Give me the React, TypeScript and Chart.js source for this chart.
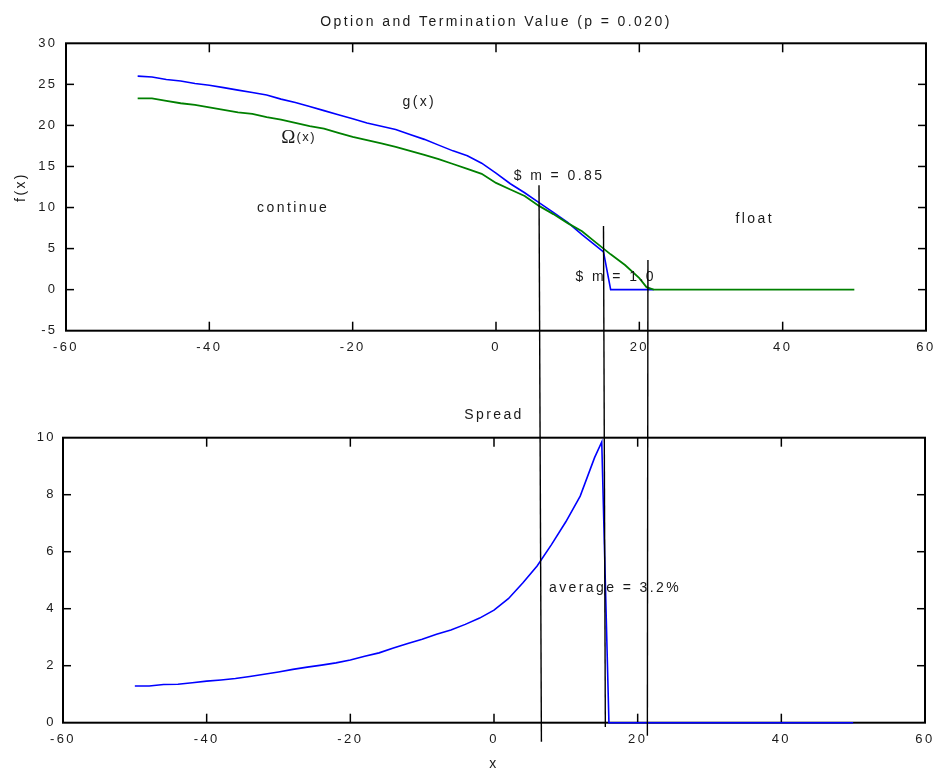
import React, { useEffect, useRef } from 'react';
import { Chart, registerables } from 'chart.js';

Chart.register(...registerables);

// ---------- data ----------
const gX = [-50, -48, -46, -44, -42, -40, -38, -36, -34, -32, -30, -28, -26, -24, -22, -20, -18, -16, -14, -12, -10, -8, -6, -4, -2, 0, 2, 4, 6, 8, 10, 12, 14, 15, 16, 22];
const gY = [26.0, 25.9, 25.6, 25.4, 25.1, 24.9, 24.6, 24.3, 24.0, 23.7, 23.2, 22.8, 22.3, 21.8, 21.3, 20.8, 20.3, 19.9, 19.5, 18.9, 18.3, 17.6, 16.9, 16.3, 15.4, 14.2, 12.9, 11.8, 10.6, 9.4, 8.2, 6.7, 5.3, 4.6, 0, 0];

const omegaX = [-50, -48, -46, -44, -42, -40, -38, -36, -34, -32, -30, -28, -26, -24, -22, -20, -18, -16, -14, -12, -10, -8, -6, -4, -2, 0, 2, 4, 6, 8, 10, 12, 14, 16, 18, 20, 21, 22, 50];
const omegaY = [23.3, 23.3, 23.0, 22.7, 22.5, 22.2, 21.9, 21.6, 21.4, 21.0, 20.7, 20.3, 19.9, 19.6, 19.1, 18.6, 18.2, 17.8, 17.4, 16.9, 16.4, 15.9, 15.3, 14.7, 14.1, 13.0, 12.2, 11.4, 10.2, 9.2, 8.1, 7.1, 5.7, 4.3, 3.0, 1.4, 0.3, 0, 0];

const spreadX = [-50, -48, -46, -44, -42, -40, -38, -36, -34, -32, -30, -28, -26, -24, -22, -20, -18, -16, -14, -12, -10, -8, -6, -4, -2, 0, 2, 4, 6, 8, 10, 12, 14, 15, 16, 50];
const spreadY = [1.29, 1.29, 1.34, 1.35, 1.40, 1.46, 1.50, 1.55, 1.62, 1.70, 1.78, 1.87, 1.95, 2.02, 2.10, 2.20, 2.33, 2.45, 2.62, 2.78, 2.93, 3.10, 3.25, 3.45, 3.67, 3.95, 4.35, 4.90, 5.50, 6.25, 7.05, 7.95, 9.30, 9.85, 0, 0];

// axis ranges / ticks
const xRange = [-60, 60];
const xStep = 20;
const topYRange = [-5, 30];
const topYStep = 5;
const botYRange = [0, 10];
const botYStep = 2;

// regime boundary markers (top end in top-panel units, bottom end in spread units)
const markerTopX = [6.0, 15.0, 21.2];
const markerTopY = [12.7, 7.75, 3.6];
const markerBottomX = [6.6, 15.5, 21.35];
const markerBottomY = [-0.67, -0.15, -0.46];

// text notes (anchored in data units)
const topNoteText = ['g(x)', 'continue', '$ m = 0.85', 'float', '$ m = 1.0'];
const topNoteX = [-10.7, -28.3, 8.8, 36.1, 16.7];
const topNoteY = [22.8, 9.87, 13.8, 8.56, 1.58];
const omegaNote = { x: -27.6, y: 18.6 };
const botNoteText = ['average = 3.2%'];
const botNoteX = [16.85];
const botNoteY = [4.72];

// ---------- style ----------
const FONT = "'Liberation Sans', Arial, Helvetica, sans-serif";
const SERIF = "'Liberation Serif', 'Times New Roman', serif";
const SPACING = '2.4px';
const INK = '#1a1a1a';
const BLUE = '#0000ff';
const GREEN = '#008000';

const pts = (xs: number[], ys: number[]) => xs.map((x, i) => ({ x, y: ys[i] }));

const spacingPlugin = {
  id: 'spacing',
  beforeLayout(chart: any) {
    chart.ctx.letterSpacing = SPACING;
  },
  beforeDraw(chart: any) {
    chart.ctx.letterSpacing = SPACING;
  },
};

const framePlugin = {
  id: 'frame',
  beforeDatasetsDraw(chart: any) {
    const { ctx, chartArea: a, scales } = chart;
    ctx.save();
    ctx.strokeStyle = '#000';
    ctx.lineWidth = 1.5;
    const seg = (x1: number, y1: number, x2: number, y2: number) => {
      ctx.beginPath();
      ctx.moveTo(x1, y1);
      ctx.lineTo(x2, y2);
      ctx.stroke();
    };
    scales.x.ticks.forEach((t: any) => {
      const p = scales.x.getPixelForValue(t.value);
      if (p <= a.left + 1 || p >= a.right - 1) return;
      seg(p, a.bottom, p, a.bottom - 9);
      seg(p, a.top, p, a.top + 9);
    });
    scales.y.ticks.forEach((t: any) => {
      const p = scales.y.getPixelForValue(t.value);
      if (p <= a.top + 1 || p >= a.bottom - 1) return;
      seg(a.left, p, a.left + 8, p);
      seg(a.right, p, a.right - 8, p);
    });
    ctx.lineWidth = 2;
    ctx.strokeRect(a.left, a.top, a.right - a.left, a.bottom - a.top);
    ctx.restore();
  },
};

function drawNote(ctx: any, text: string, x: number, y: number) {
  ctx.save();
  ctx.letterSpacing = SPACING;
  ctx.font = `14px ${FONT}`;
  ctx.fillStyle = INK;
  ctx.textAlign = 'center';
  ctx.textBaseline = 'middle';
  ctx.fillText(text, x, y);
  ctx.restore();
}

const topNotesPlugin = {
  id: 'topNotes',
  afterDatasetsDraw(chart: any) {
    const { ctx, scales } = chart;
    topNoteText.forEach((t, i) => {
      drawNote(ctx, t, scales.x.getPixelForValue(topNoteX[i]), scales.y.getPixelForValue(topNoteY[i]));
    });
    // Omega(x)
    const cx = scales.x.getPixelForValue(omegaNote.x);
    const cy = scales.y.getPixelForValue(omegaNote.y);
    ctx.save();
    ctx.fillStyle = INK;
    ctx.textBaseline = 'alphabetic';
    ctx.textAlign = 'left';
    ctx.letterSpacing = '0px';
    ctx.font = `19px ${SERIF}`;
    const wO = ctx.measureText('Ω').width;
    ctx.letterSpacing = '1.5px';
    ctx.font = `13px ${FONT}`;
    const wX = ctx.measureText('(x)').width;
    const x0 = cx - (wO + wX) / 2;
    const base = cy + 6.5;
    ctx.letterSpacing = '0px';
    ctx.font = `19px ${SERIF}`;
    ctx.fillText('Ω', x0, base);
    ctx.letterSpacing = '1.5px';
    ctx.font = `13px ${FONT}`;
    ctx.fillText('(x)', x0 + wO + 1, base - 2);
    ctx.restore();
  },
};

const botNotesPlugin = {
  id: 'botNotes',
  afterDatasetsDraw(chart: any) {
    const { ctx, scales } = chart;
    botNoteText.forEach((t, i) => {
      drawNote(ctx, t, scales.x.getPixelForValue(botNoteX[i]), scales.y.getPixelForValue(botNoteY[i]));
    });
  },
};

function axisX(height: number, title?: string) {
  return {
    type: 'linear',
    min: xRange[0],
    max: xRange[1],
    grid: { display: false, drawTicks: false },
    border: { display: false },
    ticks: {
      stepSize: xStep,
      padding: 9.3,
      color: INK,
      font: { family: FONT, size: 13 },
      maxRotation: 0,
      autoSkip: false,
    },
    title: title
      ? {
          display: true,
          text: title,
          color: INK,
          font: { family: FONT, size: 14, lineHeight: 1.0 },
          padding: { top: 0, bottom: 0 },
        }
      : { display: false },
    afterFit(s: any) {
      s.height = height;
      s.paddingLeft = 0;
      s.paddingRight = 0;
    },
  };
}

function axisY(range: number[], step: number, width: number, pad: number, title?: string) {
  return {
    type: 'linear',
    min: range[0],
    max: range[1],
    grid: { display: false, drawTicks: false },
    border: { display: false },
    ticks: {
      stepSize: step,
      padding: pad,
      color: INK,
      font: { family: FONT, size: 13 },
    },
    title: title
      ? {
          display: true,
          text: title,
          color: INK,
          font: { family: FONT, size: 14, lineHeight: 1.2 },
          padding: { top: 13, bottom: 0 },
        }
      : { display: false },
    afterFit(s: any) {
      s.width = width;
      s.paddingTop = 0;
      s.paddingBottom = 0;
    },
  };
}

export default function App() {
  const topRef = useRef<HTMLCanvasElement>(null);
  const botRef = useRef<HTMLCanvasElement>(null);

  useEffect(() => {
    const topChart = new Chart(topRef.current as HTMLCanvasElement, {
      type: 'line',
      data: {
        datasets: [
          {
            label: 'Ω(x)',
            data: pts(omegaX, omegaY),
            borderColor: GREEN,
            borderWidth: 1.8,
            pointRadius: 0,
            tension: 0,
            clip: 4,
          },
          {
            label: 'g(x)',
            data: pts(gX, gY),
            borderColor: BLUE,
            borderWidth: 1.6,
            pointRadius: 0,
            tension: 0,
            clip: 4,
          },
        ],
      },
      options: {
        responsive: false,
        animation: false,
        events: [],
        layout: { padding: { left: 0, right: 10, top: 0, bottom: 0 } },
        plugins: {
          legend: { display: false },
          tooltip: { enabled: false },
          title: {
            display: true,
            text: 'Option and Termination Value (p = 0.020)',
            fullSize: false,
            color: INK,
            font: { family: FONT, size: 14, weight: 'normal', lineHeight: 1.2 },
            padding: { top: 14, bottom: 12.5 },
          },
        },
        scales: {
          x: axisX(440.3),
          y: axisY(topYRange, topYStep, 66, 8.5, 'f(x)'),
        },
      } as any,
      plugins: [spacingPlugin, framePlugin, topNotesPlugin],
    });

    const markerPlugin = {
      id: 'markers',
      afterDraw(chart: any) {
        const { ctx, scales } = chart;
        const tx = topChart.scales.x;
        const ty = topChart.scales.y;
        ctx.save();
        ctx.strokeStyle = '#000';
        ctx.lineWidth = 1.4;
        markerTopX.forEach((_, i) => {
          ctx.beginPath();
          ctx.moveTo(tx.getPixelForValue(markerTopX[i]), ty.getPixelForValue(markerTopY[i]));
          ctx.lineTo(scales.x.getPixelForValue(markerBottomX[i]), scales.y.getPixelForValue(markerBottomY[i]));
          ctx.stroke();
        });
        ctx.restore();
      },
    };

    const botChart = new Chart(botRef.current as HTMLCanvasElement, {
      type: 'line',
      data: {
        datasets: [
          {
            label: 'Spread',
            data: pts(spreadX, spreadY),
            borderColor: BLUE,
            borderWidth: 1.6,
            pointRadius: 0,
            tension: 0,
            clip: 4,
          },
        ],
      },
      options: {
        responsive: false,
        animation: false,
        events: [],
        layout: { padding: { left: 0, right: 11, top: 406.6, bottom: 0 } },
        plugins: {
          legend: { display: false },
          tooltip: { enabled: false },
          title: {
            display: true,
            text: 'Spread',
            fullSize: false,
            color: INK,
            font: { family: FONT, size: 14, weight: 'normal', lineHeight: 1.2 },
            padding: { top: 0, bottom: 14.3 },
          },
        },
        scales: {
          x: axisX(48.3, 'x'),
          y: axisY(botYRange, botYStep, 63, 7),
        },
      } as any,
      plugins: [spacingPlugin, framePlugin, botNotesPlugin, markerPlugin],
    });

    return () => {
      botChart.destroy();
      topChart.destroy();
    };
  }, []);

  const canvasStyle: React.CSSProperties = { position: 'absolute', left: 0, top: 0, width: 936, height: 771 };
  return (
    <div style={{ position: 'fixed', left: 0, top: 0, width: 936, height: 771, background: '#fff' }}>
      <canvas ref={topRef} width={936} height={771} style={canvasStyle} />
      <canvas ref={botRef} width={936} height={771} style={canvasStyle} />
    </div>
  );
}
